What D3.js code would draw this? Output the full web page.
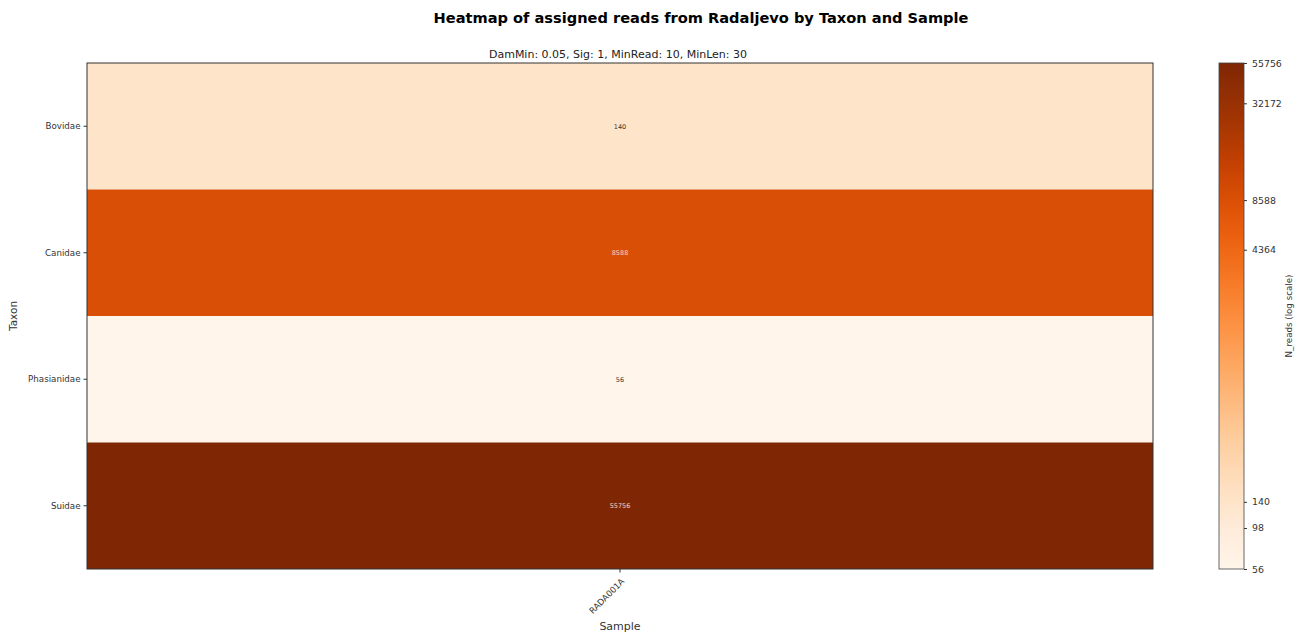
<!DOCTYPE html>
<html>
<head>
<meta charset="utf-8">
<script src="https://cdn.jsdelivr.net/npm/d3@7"></script>
<style>
  body { margin: 0; background: #fff; }
  svg { display: block; font-family: "DejaVu Sans", sans-serif; }
</style>
</head>
<body>
<svg id="chart" width="1304" height="634"></svg>
<script>
// Heatmap data: one sample, four taxa
const taxa = ["Bovidae", "Canidae", "Phasianidae", "Suidae"];
const samples = ["RADA001A"];
const reads = [140, 8588, 56, 55756];
const colorbarTicks = [56, 98, 140, 4364, 8588, 32172, 55756];

const svg = d3.select("#chart");
const plot = { left: 87, right: 1153, top: 63, bottom: 569 };

const x = d3.scaleBand().domain(samples).range([plot.left, plot.right]);
const y = d3.scaleBand().domain(taxa).range([plot.top, plot.bottom]);
const vmin = d3.min(reads), vmax = d3.max(reads);
const logNorm = d3.scaleLog().domain([vmin, vmax]).range([0, 1]);
const color = v => d3.interpolateOranges(logNorm(v));

// Title and subtitle
svg.append("text")
  .attr("x", 701).attr("y", 23)
  .attr("text-anchor", "middle")
  .attr("font-size", 14.6).attr("font-weight", "bold")
  .text("Heatmap of assigned reads from Radaljevo by Taxon and Sample");
svg.append("text")
  .attr("x", (plot.left + plot.right) / 2 - 2).attr("y", 58)
  .attr("text-anchor", "middle")
  .attr("font-size", 11).attr("fill", "#222")
  .text("DamMin: 0.05, Sig: 1, MinRead: 10, MinLen: 30");

// Cells
const cells = taxa.map((t, i) => ({ taxon: t, sample: samples[0], value: reads[i] }));
svg.append("g").selectAll("rect").data(cells).join("rect")
  .attr("x", d => x(d.sample))
  .attr("y", d => y(d.taxon))
  .attr("width", x.bandwidth())
  .attr("height", y.bandwidth())
  .attr("fill", d => color(d.value));

// Cell value labels
svg.append("g").selectAll("text").data(cells).join("text")
  .attr("x", d => x(d.sample) + x.bandwidth() / 2)
  .attr("y", d => y(d.taxon) + y.bandwidth() / 2)
  .attr("dy", "0.35em")
  .attr("text-anchor", "middle")
  .attr("font-size", 6.5)
  .attr("fill", d => logNorm(d.value) > 0.5 ? "#f3d6c4" : "#333")
  .text(d => d.value);

// Frame
svg.append("rect")
  .attr("x", plot.left).attr("y", plot.top)
  .attr("width", plot.right - plot.left).attr("height", plot.bottom - plot.top)
  .attr("fill", "none").attr("stroke", "#333").attr("stroke-width", 1);

// Y axis
const yAxis = svg.append("g")
  .attr("transform", `translate(${plot.left},0)`)
  .call(d3.axisLeft(y).tickSize(3.5).tickPadding(3));
yAxis.select(".domain").remove();
yAxis.selectAll("text").attr("font-size", 8.7).attr("fill", "#333").attr("font-family", "DejaVu Sans");
yAxis.selectAll("line").attr("stroke", "#333");

svg.append("text")
  .attr("transform", `translate(17,${(plot.top + plot.bottom) / 2}) rotate(-90)`)
  .attr("text-anchor", "middle")
  .attr("font-size", 10.5).attr("fill", "#333")
  .text("Taxon");

// X axis
const xAxis = svg.append("g")
  .attr("transform", `translate(0,${plot.bottom})`)
  .call(d3.axisBottom(x).tickSize(3.5).tickPadding(2));
xAxis.select(".domain").remove();
xAxis.selectAll("line").attr("stroke", "#333");
xAxis.selectAll("text")
  .attr("font-size", 8.5).attr("fill", "#333").attr("font-family", "DejaVu Sans")
  .attr("text-anchor", "end")
  .attr("dy", "0.35em")
  .attr("transform", "translate(-1,7) rotate(-45)");

svg.append("text")
  .attr("x", (plot.left + plot.right) / 2).attr("y", 630)
  .attr("text-anchor", "middle")
  .attr("font-size", 11).attr("fill", "#333")
  .text("Sample");

// Colorbar (log scale)
const cb = { left: 1219, width: 25 };
const cbScale = d3.scaleLog().domain([vmin, vmax]).range([plot.bottom, plot.top]);
const defs = svg.append("defs");
const grad = defs.append("linearGradient")
  .attr("id", "cbgrad").attr("x1", 0).attr("y1", 1).attr("x2", 0).attr("y2", 0);
d3.range(0, 1.0001, 0.02).forEach(t => {
  grad.append("stop").attr("offset", t).attr("stop-color", d3.interpolateOranges(t));
});
svg.append("rect")
  .attr("x", cb.left).attr("y", plot.top)
  .attr("width", cb.width).attr("height", plot.bottom - plot.top)
  .attr("fill", "url(#cbgrad)")
  .attr("stroke", "#444").attr("stroke-width", 0.8);

const cbAxis = svg.append("g")
  .attr("transform", `translate(${cb.left + cb.width},0)`)
  .call(d3.axisRight(cbScale).tickValues(colorbarTicks).tickFormat(d3.format("d")).tickSize(3).tickPadding(5));
cbAxis.select(".domain").remove();
cbAxis.selectAll("text").attr("font-size", 9.4).attr("fill", "#333").attr("font-family", "DejaVu Sans");
cbAxis.selectAll("line").attr("stroke", "#333");

svg.append("text")
  .attr("transform", `translate(1292,${(plot.top + plot.bottom) / 2}) rotate(-90)`)
  .attr("text-anchor", "middle")
  .attr("font-size", 8.7).attr("fill", "#333")
  .text("N_reads (log scale)");
</script>
</body>
</html>
